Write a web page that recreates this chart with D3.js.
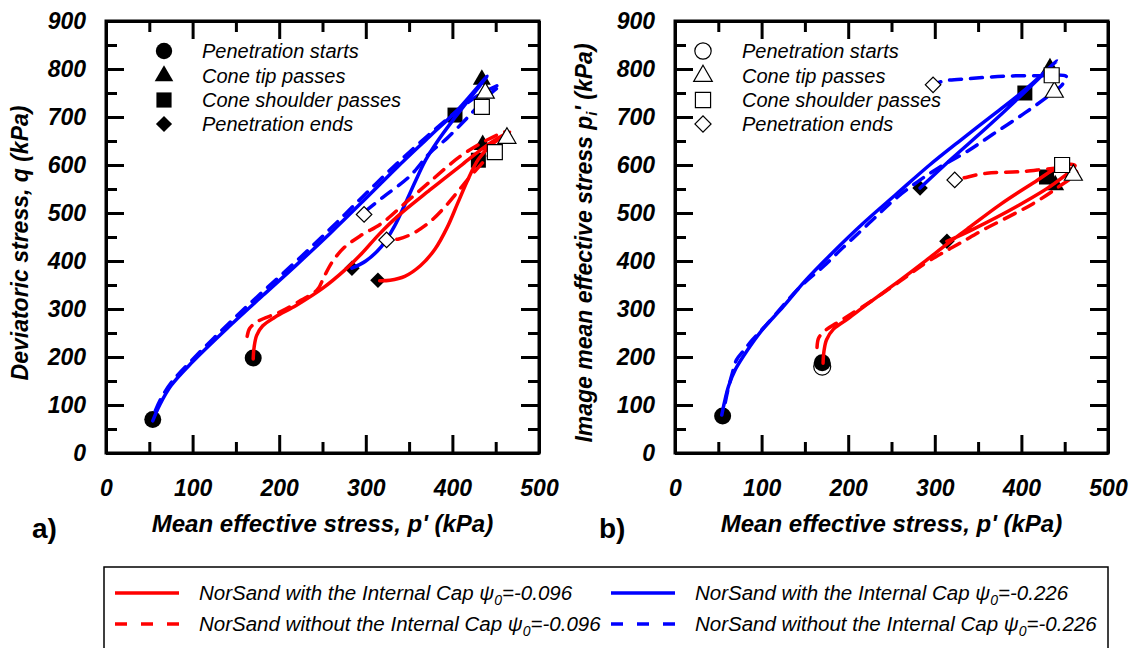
<!DOCTYPE html>
<html>
<head>
<meta charset="utf-8">
<script src="https://cdn.jsdelivr.net/npm/d3@7"></script>
<style>
  body { margin: 0; background: #fff; }
  text { font-family: "Liberation Sans", Arial, sans-serif; }
</style>
</head>
<body>
<script>
// ticks
const pTicks = [0, 100, 200, 300, 400, 500];
const pMinor = [50, 150, 250, 350, 450];
const sTicks = [0, 100, 200, 300, 400, 500, 600, 700, 800, 900];
const sMinor = [50, 150, 250, 350, 450, 550, 650, 750, 850];

// a) deviatoric stress q vs p' — [p', q]
const aRedCap = [[170,196],[171,220],[174,245],[181,265],[195,283],[220,308],[250,343],[275,380],[295,415],[315,455],[336,492],[374,548],[412,602],[443,645],[466,669],
  [445,642],[430,612],[418,570],[406,520],[394,470],[380,425],[363,390],[345,368],[328,360],[316,359]];
const aRedNoCap = [[163,243],[166,260],[176,275],[200,293],[225,318],[244,340],[252,368],[262,400],[275,428],[295,454],[318,478],[345,520],[372,562],[409,618],[440,652],[463,669],
  [451,640],[435,605],[420,575],[405,542],[390,510],[373,480],[355,458],[338,446],[324,444]];
const aBlueCap = [[54,67],[62,100],[75,140],[100,190],[143,265],[181,328],[220,392],[259,458],[297,525],[336,595],[374,660],[405,713],[440,785],
  [420,738],[400,692],[383,650],[369,610],[357,565],[345,517],[333,472],[318,430],[300,400],[284,385]];
const aBlueNoCap = [[57,88],[63,112],[76,148],[100,195],[143,272],[181,336],[220,400],[259,467],[297,535],[336,603],[374,665],[405,712],[430,745],[455,767],
  [440,742],[417,698],[394,656],[374,625],[351,577],[320,533],[297,500]];
const aStart = [[54,70],[170,198]];
const aTip = [[434,778],[435,642]];
const aShoulder = [[403,704],[430,610]];
const aEnd = [[284,385],[314,360]];
const aTipOpen = [[438,750],[463,656]];
const aShoulderOpen = [[434,721],[449,627]];
const aEndOpen = [[298,497],[324,444]];

// b) image mean effective stress p_i' vs p' — [p', p_i']
const bRedCap = [[171,187],[172,212],[175,236],[183,258],[200,280],[222,310],[260,360],[287,397],[314,435],[337,466],[375,517],[414,563],[448,600],[462,599],
  [437,560],[395,514],[344,466],[314,441]];
const bRedNoCap = [[164,220],[166,240],[174,256],[188,272],[222,311],[260,358],[287,393],[310,418],[329,437],[356,465],[385,492],[414,520],[441,552],[464,585],
  [452,593],[398,586],[360,583],[333,573],[323,569]];
const bBlueCap = [[54,79],[57,105],[62,140],[70,175],[82,210],[100,255],[125,305],[150,358],[179,412],[217,478],[256,540],[294,600],[330,652],[370,708],[405,758],[441,817],
  [404,752],[360,678],[320,614],[283,552]];
const bBlueNoCap = [[58,105],[61,131],[66,165],[71,194],[80,215],[89,235],[106,268],[144,345],[171,388],[194,428],[213,460],[233,494],[252,526],[280,565],[306,596],[337,628],[367,664],[402,706],[430,742],[447,767],[452,784],
  [420,786],[380,785],[340,780],[310,775],[298,767]];
const bStart = [[55,77],[170,188]];
const bStartOpen = [[170,180]];
const bTip = [[433,802],[439,558]];
const bShoulder = [[404,750],[429,575]];
const bEnd = [[283,552],[314,441]];
const bTipOpen = [[438,752],[460,579]];
const bShoulderOpen = [[435,787],[447,600]];
const bEndOpen = [[298,767],[323,569]];

const markLabels = ["Penetration starts", "Cone tip passes", "Cone shoulder passes", "Penetration ends"];
const seriesLabels = [
  ["NorSand with the Internal Cap ", "-0.096"],
  ["NorSand without the Internal Cap ", "-0.096"],
  ["NorSand with the Internal Cap ", "-0.226"],
  ["NorSand without the Internal Cap ", "-0.226"]
];

const RED = "#ff0000", BLUE = "#0000ff";

const svg = d3.select("body").append("svg")
  .attr("width", 1134).attr("height", 648)
  .style("background", "#fff");

const yScale = d3.scaleLinear().domain([0, 900]).range([453, 21]);
const xA = d3.scaleLinear().domain([0, 500]).range([106, 539]);
const xB = d3.scaleLinear().domain([0, 500]).range([675, 1108]);

const shapes = {
  circle: d3.symbol(d3.symbolCircle),
  triangle: d3.symbol(d3.symbolTriangle),
  square: d3.symbol(d3.symbolSquare),
  diamond: d3.symbol(d3.symbolSquare)
};

function styleAxis(g) {
  g.select(".domain").attr("stroke-width", 3);
  g.selectAll(".tick line").attr("stroke-width", 3);
  g.selectAll(".tick text")
    .attr("font-size", 23).attr("font-weight", "bold").attr("font-style", "italic")
    .attr("font-family", "Liberation Sans, Arial, sans-serif").attr("fill", "#000");
}

function drawFrame(x) {
  const g = svg.append("g");
  const x0 = x.range()[0], x1 = x.range()[1];
  const noLabel = "";
  g.append("g").attr("transform", `translate(0,${yScale(0)})`)
    .call(d3.axisBottom(x).tickValues(pTicks).tickSizeInner(-18).tickSizeOuter(0).tickPadding(27))
    .call(styleAxis);
  g.append("g").attr("transform", `translate(0,${yScale(0)})`)
    .call(d3.axisBottom(x).tickValues(pMinor).tickSize(-11).tickFormat(noLabel))
    .call(styleAxis).call(a => a.select(".domain").remove());
  g.append("g").attr("transform", `translate(0,${yScale(900)})`)
    .call(d3.axisTop(x).tickValues(pTicks).tickSizeInner(-18).tickSizeOuter(0).tickFormat(noLabel))
    .call(styleAxis);
  g.append("g").attr("transform", `translate(0,${yScale(900)})`)
    .call(d3.axisTop(x).tickValues(pMinor).tickSize(-11).tickFormat(noLabel))
    .call(styleAxis).call(a => a.select(".domain").remove());
  g.append("g").attr("transform", `translate(${x0},0)`)
    .call(d3.axisLeft(yScale).tickValues(sTicks).tickSizeInner(-18).tickSizeOuter(0).tickPadding(20))
    .call(styleAxis);
  g.append("g").attr("transform", `translate(${x0},0)`)
    .call(d3.axisLeft(yScale).tickValues(sMinor).tickSize(-11).tickFormat(noLabel))
    .call(styleAxis).call(a => a.select(".domain").remove());
  g.append("g").attr("transform", `translate(${x1},0)`)
    .call(d3.axisRight(yScale).tickValues(sTicks).tickSizeInner(-18).tickSizeOuter(0).tickFormat(noLabel))
    .call(styleAxis);
  g.append("g").attr("transform", `translate(${x1},0)`)
    .call(d3.axisRight(yScale).tickValues(sMinor).tickSize(-11).tickFormat(noLabel))
    .call(styleAxis).call(a => a.select(".domain").remove());
  g.append("rect")
    .attr("x", x0).attr("y", yScale(900))
    .attr("width", x1 - x0).attr("height", yScale(0) - yScale(900))
    .attr("fill", "none").attr("stroke", "#000").attr("stroke-width", 3);
}

function drawMarks(x, data, shape, size, open) {
  svg.append("g").selectAll("path").data(data).join("path")
    .attr("d", shapes[shape].size(size)())
    .attr("transform", d => `translate(${x(d[0])},${yScale(d[1])})` + (shape === "diamond" ? " rotate(45)" : ""))
    .attr("fill", open ? "#fff" : "#000")
    .attr("stroke", "#000")
    .attr("stroke-width", open ? 1.2 : 0);
}

function drawCurve(x, data, color, dashed) {
  const line = d3.line()
    .x(d => x(d[0])).y(d => yScale(d[1]))
    .curve(d3.curveCatmullRom.alpha(0.5));
  svg.append("path").datum(data)
    .attr("d", line)
    .attr("fill", "none")
    .attr("stroke", color)
    .attr("stroke-width", 3.5)
    .attr("stroke-linecap", "round")
    .attr("stroke-dasharray", dashed ? "12,9" : null);
}

function drawInnerLegend(mx, tx, open) {
  const rows = [51, 76, 100, 124];
  const kinds = [["circle", 210], ["triangle", 150], ["square", 230], ["diamond", 130]];
  rows.forEach((ry, i) => {
    svg.append("path")
      .attr("d", shapes[kinds[i][0]].size(kinds[i][1])())
      .attr("transform", `translate(${mx},${ry})` + (kinds[i][0] === "diamond" ? " rotate(45)" : ""))
      .attr("fill", open ? "none" : "#000")
      .attr("stroke", "#000").attr("stroke-width", open ? 1.2 : 0);
    svg.append("text")
      .attr("x", tx).attr("y", ry + 7)
      .attr("font-size", 20).attr("font-style", "italic")
      .text(markLabels[i]);
  });
}

// frames
drawFrame(xA);
drawFrame(xB);

// panel a
drawMarks(xA, aStart, "circle", 227, false);
drawMarks(xA, aTip, "triangle", 140, false);
drawMarks(xA, aShoulder, "square", 225, false);
drawMarks(xA, aEnd, "diamond", 120, false);
drawCurve(xA, aBlueCap, BLUE, false);
drawCurve(xA, aBlueNoCap, BLUE, true);
drawCurve(xA, aRedCap, RED, false);
drawCurve(xA, aRedNoCap, RED, true);
drawMarks(xA, aTipOpen, "triangle", 140, true);
drawMarks(xA, aShoulderOpen, "square", 225, true);
drawMarks(xA, aEndOpen, "diamond", 120, true);
drawInnerLegend(164, 202, false);

// panel b
drawMarks(xB, bStartOpen, "circle", 227, true);
drawMarks(xB, bStart, "circle", 227, false);
drawMarks(xB, bTip, "triangle", 140, false);
drawMarks(xB, bShoulder, "square", 225, false);
drawMarks(xB, bEnd, "diamond", 120, false);
drawCurve(xB, bBlueCap, BLUE, false);
drawCurve(xB, bBlueNoCap, BLUE, true);
drawCurve(xB, bRedCap, RED, false);
drawCurve(xB, bRedNoCap, RED, true);
drawMarks(xB, bTipOpen, "triangle", 140, true);
drawMarks(xB, bShoulderOpen, "square", 225, true);
drawMarks(xB, bEndOpen, "diamond", 120, true);
drawInnerLegend(703, 742, true);

// axis titles
const titleStyle = t => t.attr("font-weight", "bold").attr("font-style", "italic");
[xA, xB].forEach(x => {
  svg.append("text")
    .attr("x", (x.range()[0] + x.range()[1]) / 2).attr("y", 532)
    .attr("text-anchor", "middle")
    .attr("font-size", 24)
    .call(titleStyle)
    .text("Mean effective stress, p' (kPa)");
});
svg.append("text")
  .attr("transform", "translate(28,243) rotate(-90)")
  .attr("text-anchor", "middle")
  .attr("font-size", 23)
  .call(titleStyle)
  .text("Deviatoric stress, q (kPa)");
const ty = svg.append("text")
  .attr("transform", "translate(592,243) rotate(-90)")
  .attr("text-anchor", "middle")
  .attr("font-size", 23)
  .call(titleStyle);
ty.append("tspan").text("Image mean effective stress p");
ty.append("tspan").attr("font-size", 15).attr("dy", 5).text("i");
ty.append("tspan").attr("dy", -5).text("' (kPa)");

svg.append("text").attr("x", 32).attr("y", 538)
  .attr("font-size", 28).attr("font-weight", "bold").text("a)");
svg.append("text").attr("x", 599).attr("y", 538)
  .attr("font-size", 28).attr("font-weight", "bold").text("b)");

// bottom legend
svg.append("rect")
  .attr("x", 104).attr("y", 567).attr("width", 1004).attr("height", 120)
  .attr("fill", "none").attr("stroke", "#000").attr("stroke-width", 1.5);
const legendItems = [
  { x: 115, y: 593, color: RED, dashed: false },
  { x: 115, y: 624, color: RED, dashed: true },
  { x: 611, y: 593, color: BLUE, dashed: false },
  { x: 611, y: 624, color: BLUE, dashed: true }
];
legendItems.forEach((it, i) => {
  svg.append("line")
    .attr("x1", it.x).attr("x2", it.x + 64)
    .attr("y1", it.y).attr("y2", it.y)
    .attr("stroke", it.color).attr("stroke-width", 3.5)
    .attr("stroke-dasharray", it.dashed ? "12,14" : null);
  const t = svg.append("text")
    .attr("x", it.x + 84).attr("y", it.y + 7)
    .attr("font-size", 20.5).attr("font-style", "italic");
  t.append("tspan").text(seriesLabels[i][0] + "ψ");
  t.append("tspan").attr("font-size", 14).attr("dy", 5).text("0");
  t.append("tspan").attr("dy", -5).text("=" + seriesLabels[i][1]);
});
</script>
</body>
</html>
